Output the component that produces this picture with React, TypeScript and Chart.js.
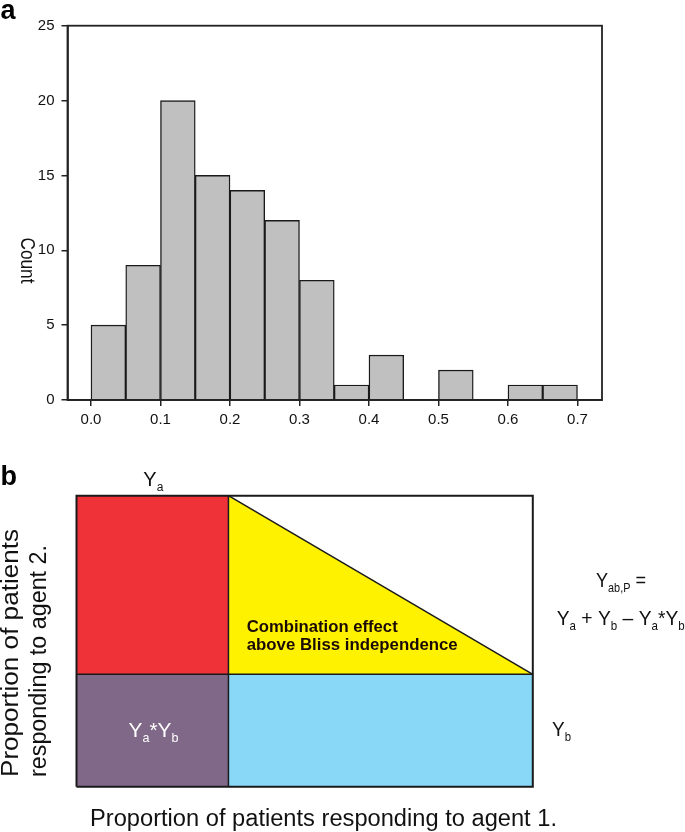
import React, { useEffect, useRef } from 'react';
import { Chart, registerables } from 'chart.js';

Chart.register(...registerables);

const FONT = '"Liberation Sans", Arial, Helvetica, sans-serif';

// ---------- Panel a: histogram ----------
const binCenters = [0.025, 0.075, 0.125, 0.175, 0.225, 0.275, 0.325, 0.375, 0.425, 0.475, 0.525, 0.575, 0.625, 0.675];
const binCounts = [5, 9, 20, 15, 14, 12, 8, 1, 3, 0, 2, 0, 1, 1];
const xTickValues = [0, 0.1, 0.2, 0.3, 0.4, 0.5, 0.6, 0.7];
const yTickValues = [0, 5, 10, 15, 20, 25];

// ---------- Panel b: Bliss independence diagram ----------
const Ya = 0.333;
const Yb = 0.386;

type Part = [string, boolean];

function drawText(
  ctx: CanvasRenderingContext2D,
  text: string,
  x: number,
  y: number,
  opts: { font: string; color?: string; align?: CanvasTextAlign; target?: number; rotate?: number }
) {
  ctx.save();
  ctx.translate(x, y);
  if (opts.rotate) ctx.rotate(opts.rotate);
  ctx.font = opts.font;
  ctx.fillStyle = opts.color || '#111';
  ctx.textAlign = opts.align || 'left';
  ctx.textBaseline = 'alphabetic';
  if (opts.target) {
    const w = ctx.measureText(text).width;
    ctx.scale(opts.target / w, 1);
  }
  ctx.fillText(text, 0, 0);
  ctx.restore();
}

function drawRich(
  ctx: CanvasRenderingContext2D,
  parts: Part[],
  x: number,
  y: number,
  size: number,
  opts: { color?: string; align?: 'left' | 'center'; target?: number }
) {
  const sub = size * 0.6;
  ctx.save();
  ctx.fillStyle = opts.color || '#111';
  ctx.textAlign = 'left';
  ctx.textBaseline = 'alphabetic';
  const widths = parts.map(([t, s]) => {
    ctx.font = `${s ? sub : size}px ${FONT}`;
    return ctx.measureText(t).width;
  });
  const total = widths.reduce((a, b) => a + b, 0);
  const sx = opts.target ? opts.target / total : 1;
  const w = total * sx;
  const start = opts.align === 'center' ? x - w / 2 : x;
  ctx.translate(start, y);
  ctx.scale(sx, 1);
  let cx = 0;
  parts.forEach(([t, s], i) => {
    ctx.font = `${s ? sub : size}px ${FONT}`;
    ctx.fillText(t, cx, s ? size * 0.24 : 0);
    cx += widths[i];
  });
  ctx.restore();
}

function HistogramChart() {
  const ref = useRef<HTMLCanvasElement | null>(null);
  useEffect(() => {
    if (!ref.current) return;
    const framePlugin = {
      id: 'frameA',
      afterDraw(chart: any) {
        const { ctx, chartArea } = chart;
        ctx.save();
        ctx.strokeStyle = '#222';
        ctx.lineWidth = 1.8;
        ctx.strokeRect(chartArea.left, chartArea.top, chartArea.right - chartArea.left, chartArea.bottom - chartArea.top);
        ctx.restore();
        drawText(ctx, 'a', 0.5, 18.5, { font: `bold 27px ${FONT}`, color: '#000' });
        drawText(ctx, 'Count', 20.5, 260.5, {
          font: `20px ${FONT}`,
          align: 'center',
          target: 46,
          rotate: Math.PI / 2,
        });
      },
    };
    const chart = new Chart(ref.current, {
      type: 'bar',
      data: {
        datasets: [
          {
            data: binCenters.map((x, i) => ({ x, y: binCounts[i] })),
            backgroundColor: '#c0c0c0',
            borderColor: '#1a1a1a',
            borderWidth: 1.4,
            barPercentage: 1,
            categoryPercentage: 1,
          },
        ],
      },
      options: {
        animation: false,
        responsive: false,
        events: [],
        layout: { padding: { left: 0, right: 83, top: 25.7, bottom: 0 } },
        plugins: { legend: { display: false }, tooltip: { enabled: false } },
        scales: {
          x: {
            type: 'linear',
            min: -0.0338,
            max: 0.7353,
            offset: false,
            grid: { display: true, offset: false, drawOnChartArea: false, drawTicks: true, tickLength: 6, color: '#222', lineWidth: 1.5 },
            border: { display: true, color: '#222', width: 1.8 },
            ticks: {
              autoSkip: false,
              maxRotation: 0,
              padding: 5,
              color: '#111',
              font: { family: FONT, size: 15 },
              callback: (v: any) => Number(v).toFixed(1),
            },
            afterBuildTicks: (axis: any) => {
              axis.ticks = xTickValues.map((value) => ({ value }));
            },
            afterFit: (scale: any) => {
              scale.height = 40;
            },
          },
          y: {
            type: 'linear',
            min: 0,
            max: 25,
            grid: { display: true, drawOnChartArea: false, drawTicks: true, tickLength: 6, color: '#222', lineWidth: 1.5 },
            border: { display: true, color: '#222', width: 1.8 },
            ticks: {
              padding: 7,
              color: '#111',
              font: { family: FONT, size: 15 },
            },
            afterBuildTicks: (axis: any) => {
              axis.ticks = yTickValues.map((value) => ({ value }));
            },
            afterFit: (scale: any) => {
              scale.width = 67.5;
            },
          },
        },
      } as any,
      plugins: [framePlugin],
    });
    return () => chart.destroy();
  }, []);
  return (
    <canvas
      ref={ref}
      width={685}
      height={440}
      style={{ position: 'absolute', left: 0, top: 0, width: 685, height: 440 }}
    />
  );
}

function BlissChart() {
  const ref = useRef<HTMLCanvasElement | null>(null);
  useEffect(() => {
    if (!ref.current) return;
    const line = (pts: { x: number; y: number }[], color: string, width: number) => ({
      data: pts,
      borderColor: color,
      borderWidth: width,
      backgroundColor: 'transparent',
      fill: false,
      pointRadius: 0,
      tension: 0,
      clip: false,
    });
    const area = (pts: { x: number; y: number }[], color: string, base: number, border = 0) => ({
      data: pts,
      borderColor: '#1a1a1a',
      borderWidth: border,
      backgroundColor: color,
      fill: { value: base },
      pointRadius: 0,
      tension: 0,
      clip: false,
    });
    const textPlugin = {
      id: 'textB',
      afterDraw(chart: any) {
        const { ctx } = chart;
        drawText(ctx, 'b', 0.5, 45, { font: `bold 27px ${FONT}`, color: '#000' });
        drawRich(ctx, [['Y', false], ['a', true]], 143.3, 46, 20, { target: 20 });
        drawText(ctx, 'Combination effect', 246.7, 191.7, { font: `bold 17px ${FONT}`, color: '#1a0a05', target: 151 });
        drawText(ctx, 'above Bliss independence', 246.7, 210, { font: `bold 17px ${FONT}`, color: '#1a0a05', target: 211 });
        drawRich(ctx, [['Y', false], ['a', true], ['*', false], ['Y', false], ['b', true]], 153.5, 297, 21, {
          color: '#ffffff',
          align: 'center',
          target: 50,
        });
        drawRich(ctx, [['Y', false], ['b', true]], 552, 296, 21, { target: 19 });
        drawRich(ctx, [['Y', false], ['ab,P', true], [' =', false]], 596, 146.7, 21, { target: 50 });
        drawRich(
          ctx,
          [
            ['Y', false], ['a', true], [' + ', false], ['Y', false], ['b', true], [' \u2013 ', false],
            ['Y', false], ['a', true], ['*', false], ['Y', false], ['b', true],
          ],
          556.7,
          185,
          21,
          { target: 128 }
        );
        drawText(ctx, 'Proportion of patients', 18, 337, { font: `23px ${FONT}`, rotate: -Math.PI / 2, target: 248 });
        drawText(ctx, 'responding to agent 2.', 46, 337, { font: `23px ${FONT}`, rotate: -Math.PI / 2, target: 232 });
        drawText(ctx, 'Proportion of patients responding to agent 1.', 90, 385.7, { font: `23px ${FONT}`, target: 467 });
      },
    };
    const chart = new Chart(ref.current, {
      type: 'line',
      data: {
        datasets: [
          line([{ x: 0, y: 0 }, { x: 0, y: 1 }, { x: 1, y: 1 }, { x: 1, y: 0 }, { x: 0, y: 0 }], '#1a1a1a', 2),
          line([{ x: Ya, y: 0 }, { x: Ya, y: 1 }], '#1a1a1a', 1.5),
          line([{ x: 0, y: Yb }, { x: 1, y: Yb }], '#1a1a1a', 1.5),
          area([{ x: Ya, y: 1 }, { x: 1, y: Yb }], '#fff200', Yb, 1.5),
          area([{ x: 0, y: 1 }, { x: Ya, y: 1 }], '#ee3237', Yb),
          area([{ x: 0, y: Yb }, { x: Ya, y: Yb }], '#806888', 0),
          area([{ x: Ya, y: Yb }, { x: 1, y: Yb }], '#8ad8f8', 0),
        ],
      },
      options: {
        animation: false,
        responsive: false,
        events: [],
        layout: { padding: { left: 76.5, right: 152.2, top: 55.7, bottom: 45.3 } },
        plugins: { legend: { display: false }, tooltip: { enabled: false } },
        scales: {
          x: { type: 'linear', min: 0, max: 1, display: false },
          y: { type: 'linear', min: 0, max: 1, display: false },
        },
      } as any,
      plugins: [textPlugin],
    });
    return () => chart.destroy();
  }, []);
  return (
    <canvas
      ref={ref}
      width={685}
      height={392}
      style={{ position: 'absolute', left: 0, top: 440, width: 685, height: 392 }}
    />
  );
}

export default function App() {
  return (
    <div
      style={{
        position: 'absolute',
        left: 0,
        top: 0,
        width: 685,
        height: 832,
        background: '#ffffff',
        overflow: 'hidden',
      }}
    >
      <HistogramChart />
      <BlissChart />
    </div>
  );
}
